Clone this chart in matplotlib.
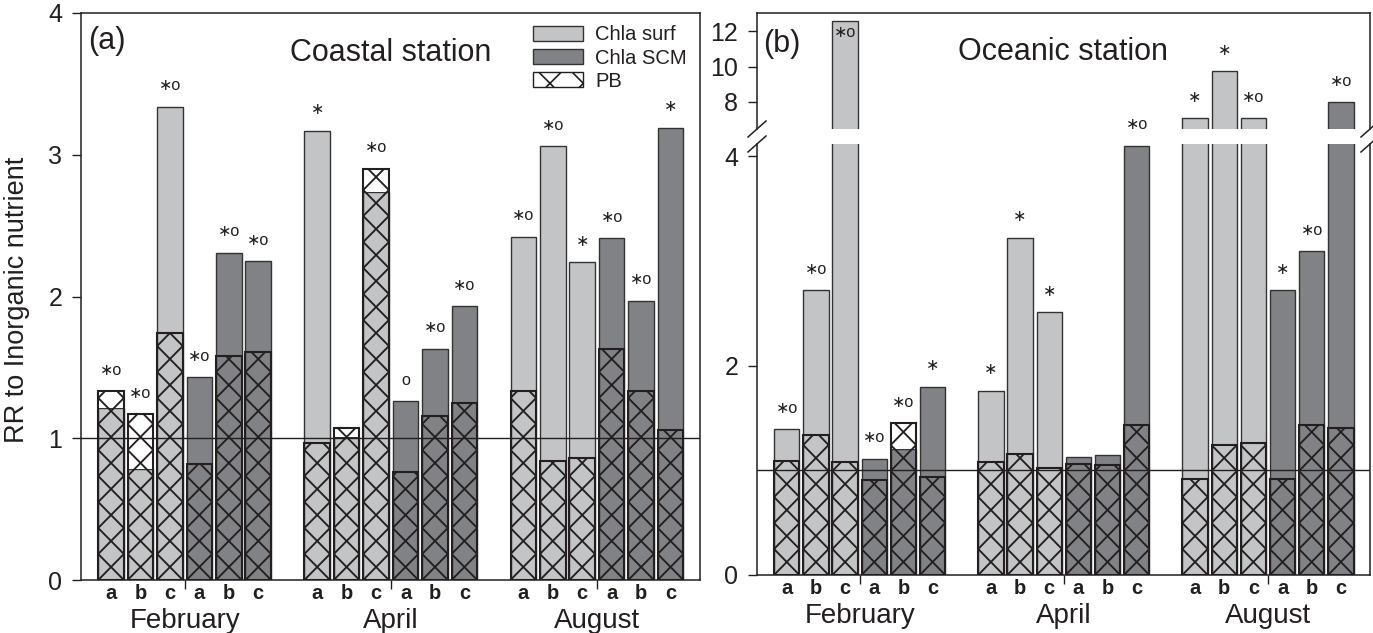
import matplotlib.pyplot as plt
from matplotlib.patches import Patch
from matplotlib.lines import Line2D
from matplotlib.collections import LineCollection
import numpy as np

plt.rcParams['font.family'] = ['Liberation Sans', 'DejaVu Sans']
plt.rcParams['hatch.linewidth'] = 1.2
plt.rcParams['text.color'] = '#231f20'

W, H = 1373, 633

months = ['February', 'April', 'August']
sites = ['a', 'b', 'c']
layers = ['Chla surf', 'Chla SCM']

# order inside each month: surf a, b, c then SCM a, b, c
coastal_chla = [1.21, 0.78, 3.34, 1.43, 2.31, 2.25,
                3.17, 1.01, 2.74, 1.26, 1.63, 1.93,
                2.42, 3.06, 2.24, 2.41, 1.97, 3.19]
coastal_pb = [1.33, 1.17, 1.74, 0.82, 1.58, 1.61,
              0.97, 1.07, 2.90, 0.76, 1.16, 1.25,
              1.33, 0.84, 0.86, 1.63, 1.33, 1.06]
coastal_sig = ['*o', '*o', '*o', '*o', '*o', '*o',
               '*', '', '*o', 'o', '*o', '*o',
               '*o', '*o', '*', '*o', '*o', '*']

oceanic_chla = [1.39, 2.72, 12.57, 1.11, 1.20, 1.80,
                1.76, 3.22, 2.51, 1.13, 1.15, 4.10,
                7.05, 9.73, 7.05, 2.72, 3.09, 7.98]
oceanic_pb = [1.09, 1.34, 1.08, 0.91, 1.45, 0.94,
              1.08, 1.16, 1.02, 1.06, 1.05, 1.43,
              0.92, 1.24, 1.26, 0.92, 1.43, 1.40]
oceanic_sig = ['*o', '*o', '*o', '*o', '*o', '*',
               '*', '*', '*', '', '', '*o',
               '*', '*', '*o', '*', '*o', '*o']

surf_color = '#c3c4c6'
scm_color = '#818285'
ink = '#231f20'
width = 0.87
hatch_px = 26  # vertical period of the cross pattern, pixels

positions = []
bar_colors = []
site_labels = []
for m in range(len(months)):
    for l in range(len(layers)):
        for s in range(len(sites)):
            positions.append(m * 7 + l * 3 + s)
            bar_colors.append(surf_color if l == 0 else scm_color)
            site_labels.append(sites[s])


def px_per_unit(ax):
    y0, y1 = ax.get_ylim()
    return ax.get_position().height * H / (y1 - y0)


def draw_bars(ax, chla, pb):
    period = hatch_px / px_per_unit(ax)
    for x, c, p, col in zip(positions, chla, pb, bar_colors):
        ax.bar(x, c, width=width, color=col, edgecolor='#333333', lw=1.0, zorder=2)
        if p > c:
            ax.bar(x, p - c, bottom=c, width=width, color='white', edgecolor='none', zorder=2)
        rect = ax.bar(x, p, width=width, facecolor='none', edgecolor=ink,
                      lw=1.5, zorder=4)[0]
        segs = []
        for k in range(int(np.ceil(p / period)) + 1):
            segs.append([(x - width / 2, k * period), (x + width / 2, (k + 1) * period)])
            segs.append([(x + width / 2, k * period), (x - width / 2, (k + 1) * period)])
        lc = LineCollection(segs, colors=ink, linewidths=1.35, zorder=3)
        ax.add_collection(lc)
        lc.set_clip_path(rect)


def add_sig(ax, x, top, txt, inside=False):
    if not txt:
        return
    txt = txt.replace('*', '\u2217')
    dy = -11 if inside else 21
    ax.annotate(txt, xy=(x, top), xytext=(0, dy), textcoords='offset pixels',
                ha='center', va='center', fontsize=11.5, annotation_clip=False)


def style_axis(ax):
    for sp in ax.spines.values():
        sp.set_linewidth(1.1)
        sp.set_color(ink)
    ax.tick_params(axis='y', direction='out', length=6.5, width=1, labelsize=18, pad=7,
                   color=ink, labelcolor=ink)
    ax.set_xlim(-1.02, 20.0)


def month_labels(ax):
    ax.set_xticks([2.5, 9.5, 16.5])
    ax.set_xticklabels([])
    ax.tick_params(axis='x', direction='out', length=6.5, width=1, color=ink)
    for x, s in zip(positions, site_labels):
        ax.annotate(s, xy=(x, 0), xycoords=('data', 'axes fraction'), xytext=(0, -19),
                    textcoords='offset pixels', ha='center', va='baseline',
                    fontsize=14.5, fontweight='bold')
    for m, name in enumerate(months):
        ax.annotate(name, xy=(m * 7 + 2.5, 0), xycoords=('data', 'axes fraction'),
                    xytext=(0, -48), textcoords='offset pixels', ha='center',
                    va='baseline', fontsize=20)


fig = plt.figure(figsize=(W / 100, H / 100), dpi=100)

# ---- panel (a): coastal station
ax_a = fig.add_axes([81 / W, 1 - 580 / H, 619 / W, 567 / H])
ax_a.set_ylim(0, 4)
ax_a.set_yticks([0, 1, 2, 3, 4])
style_axis(ax_a)
draw_bars(ax_a, coastal_chla, coastal_pb)
for x, c, p, t in zip(positions, coastal_chla, coastal_pb, coastal_sig):
    add_sig(ax_a, x, max(c, p), t)
ax_a.axhline(1, color=ink, lw=1.0, zorder=5)
month_labels(ax_a)
ax_a.text(0.012, 0.951, '(a)', transform=ax_a.transAxes, fontsize=22, va='center', ha='left')
ax_a.text(0.5, 0.916, 'Coastal station', transform=ax_a.transAxes, fontsize=22,
          va='baseline', ha='center')

handles = [Patch(facecolor=surf_color, edgecolor='#333333', lw=1.0),
           Patch(facecolor=scm_color, edgecolor='#333333', lw=1.0),
           Patch(facecolor='white', edgecolor=ink, hatch='x', lw=1.0)]
ax_a.legend(handles, ['Chla surf', 'Chla SCM', 'PB'], loc='upper left',
            bbox_to_anchor=((533 - 81) / 619, 0.978), frameon=False, fontsize=14.5,
            handlelength=2.5, handleheight=0.8, labelspacing=0.2, handletextpad=0.6,
            borderpad=0, borderaxespad=0)

fig.text(17.5 / W, 1 - 300 / H, 'RR to Inorganic nutrient', rotation=90,
         ha='center', va='center', fontsize=19.5)

# ---- panel (b): oceanic station, broken y axis
ax_top = fig.add_axes([757 / W, 1 - 129 / H, 613 / W, 116 / H])
ax_low = fig.add_axes([757 / W, 1 - 575 / H, 613 / W, 431 / H])
ax_top.set_ylim(6.45, 13.05)
ax_low.set_ylim(0, 4.116)
ax_top.set_yticks([8, 10, 12])
ax_low.set_yticks([0, 2, 4])
for ax in (ax_top, ax_low):
    style_axis(ax)
    draw_bars(ax, oceanic_chla, oceanic_pb)
ax_top.spines['bottom'].set_visible(False)
ax_low.spines['top'].set_visible(False)
ax_top.set_xticks([])
ax_low.axhline(1, color=ink, lw=1.0, zorder=5)
month_labels(ax_low)

low_max = ax_low.get_ylim()[1]
top_max = ax_top.get_ylim()[1]
for x, c, p, t in zip(positions, oceanic_chla, oceanic_pb, oceanic_sig):
    top = max(c, p)
    if top > low_max:
        add_sig(ax_top, x, top, t, inside=(top + 21 / px_per_unit(ax_top) > top_max))
    else:
        add_sig(ax_low, x, top, t)

ax_top.text(6 / 613, 1 - 31 / 116, '(b)', transform=ax_top.transAxes, fontsize=22,
            va='center', ha='left')
ax_top.text(0.5, 1 - 47.5 / 116, 'Oceanic station', transform=ax_top.transAxes,
            fontsize=22, va='baseline', ha='center')

# break marks on both vertical spines
for xe in (757, 1370):
    for yc in (129, 144):
        fig.add_artist(Line2D([(xe - 9) / W, (xe + 9) / W],
                              [1 - (yc + 8) / H, 1 - (yc - 8) / H],
                              color=ink, lw=1.1))

fig.savefig('out.png', dpi=100)
